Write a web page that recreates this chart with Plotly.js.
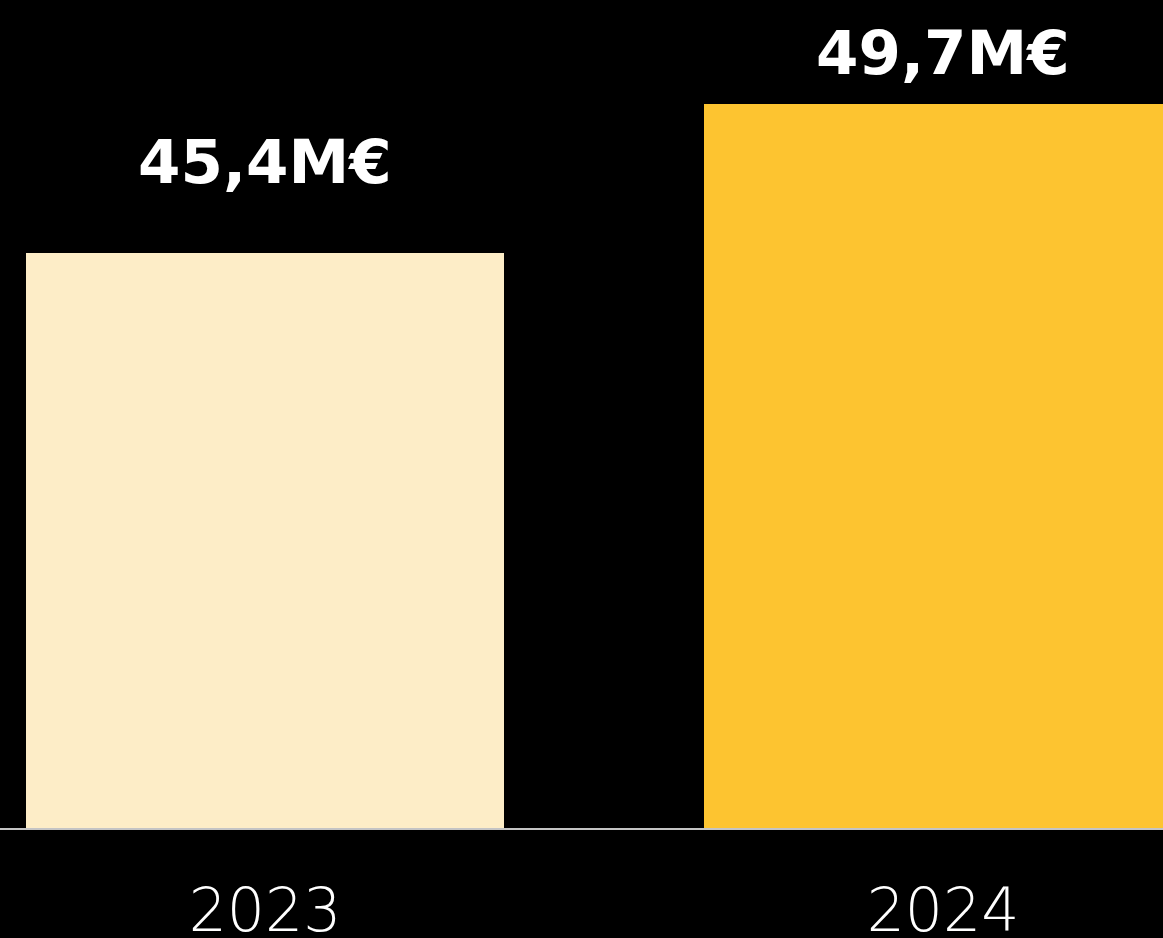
<!DOCTYPE html>
<html>
<head>
<meta charset="utf-8">
<script src="https://cdn.plot.ly/plotly-3.0.1.min.js"></script>
<style>html,body{margin:0;padding:0;background:#000;}#chart{width:1163px;height:938px;}</style>
</head>
<body>
<div id="chart"></div>
<script>
var years = ["2023", "2024"];
var values = [45.4, 49.7];
var valueLabels = ["45,4M€", "49,7M€"];
var barColors = ["#FDEDC7", "#FDC430"];

var labelShift = [91, 51];

var trace = {
  type: "bar",
  x: years,
  y: values,
  width: 0.705,
  marker: {color: barColors, line: {width: 0}},
  hoverinfo: "none"
};

var annotations = years.map(function (yr, i) {
  return {
    x: i, y: values[i], xref: "x", yref: "y",
    text: valueLabels[i], showarrow: false,
    yanchor: "middle", xanchor: "center", yshift: labelShift[i],
    font: {family: "DejaVu Sans", size: 61, color: "#ffffff", weight: "bold"}
  };
});

var layout = {
  width: 1163, height: 938,
  margin: {l: 0, r: 0, t: 0, b: 110, pad: 0},
  paper_bgcolor: "#000000",
  plot_bgcolor: "#000000",
  showlegend: false,
  bargap: 0,
  xaxis: {
    type: "category",
    range: [-0.3909, 1.3245],
    showgrid: false, zeroline: false,
    showline: true, linecolor: "#c4c4c4", linewidth: 2,
    ticks: "", ticklabelstandoff: 29,
    tickfont: {family: "DejaVu Sans", size: 60, weight: 200, color: "#ffffff"},
    fixedrange: true
  },
  yaxis: {
    range: [28.806, 52.701],
    showgrid: false, zeroline: false, showline: false,
    showticklabels: false, ticks: "",
    fixedrange: true
  },
  annotations: annotations
};

Plotly.newPlot("chart", [trace], layout, {displayModeBar: false});
</script>
</body>
</html>
